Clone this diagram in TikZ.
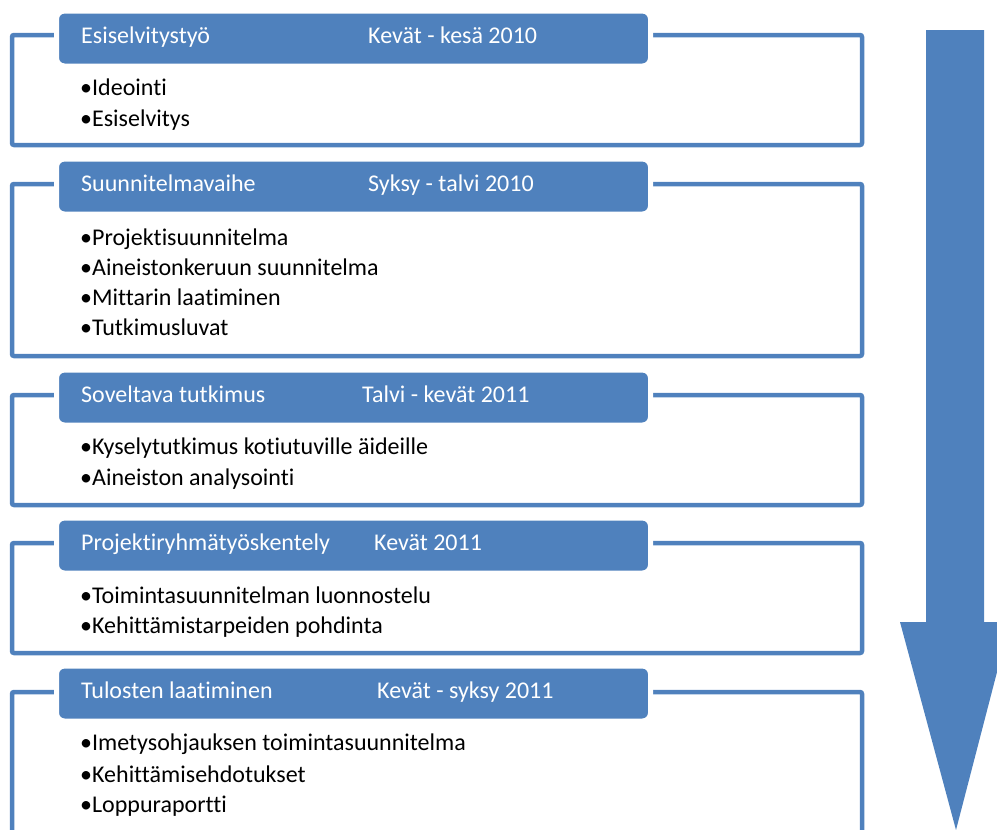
\documentclass[tikz,border=0pt]{standalone}
\usepackage{fontspec}
\setmainfont[Ligatures=NoCommon]{Carlito}
\definecolor{ob}{HTML}{4F81BD}
\begin{document}
\begin{tikzpicture}[x=1pt,y=-1pt,
  frame/.style={draw=ob, line width=4.5pt, rounded corners=2pt},
  head/.style={fill=ob, draw=white, line width=5pt, rounded corners=8pt, anchor=north west, inner sep=0pt, minimum width=594pt, minimum height=55pt},
  htext/.style={text=white, anchor=base west, font=\fontsize{24}{28}\selectfont, inner sep=0pt},
  item/.style={anchor=base west, font=\fontsize{24}{28}\selectfont, inner sep=0pt}]
\useasboundingbox (0,0) rectangle (997,830);
\clip (0,0) rectangle (997,830);
% arrow
\fill[ob] (926,30) -- (984,30) -- (984,622) -- (1010,622) -- (956,830) -- (900,622) -- (926,622) -- cycle;
% frames
\draw[frame] (12,35) rectangle (862,145);
\draw[frame] (12,184) rectangle (862,356);
\draw[frame] (12,395) rectangle (862,505);
\draw[frame] (12,543) rectangle (862,653);
\draw[frame] (12,692) rectangle (862,860);
% headers
\node[head] (h1) at (54,8.5) {};
\node[head] (h2) at (54,156.5) {};
\node[head] (h3) at (54,367.5) {};
\node[head] (h4) at (54,515.5) {};
\node[head] (h5) at (54,663.5) {};
\node[htext] (t1) at (81,43) {Esiselvitystyö};
\node[htext] (d1) at (368,43) {Kevät - kesä 2010};
\node[htext] (t2) at (81,191) {Suunnitelmavaihe};
\node[htext] (d2) at (368,191) {Syksy - talvi 2010};
\node[htext] (t3) at (81,402) {Soveltava tutkimus};
\node[htext] (d3) at (362,402) {Talvi - kevät 2011};
\node[htext] (t4) at (81,550) {Projektiryhmätyöskentely};
\node[htext] (d4) at (374,550) {Kevät 2011};
\node[htext] (t5) at (81,698) {Tulosten laatiminen};
\node[htext] (d5) at (377,698) {Kevät - syksy 2011};
% items
\node[item] (i11) at (80,95) {•Ideointi};
\node[item] (i12) at (80,126) {•Esiselvitys};
\node[item] (i21) at (80,245) {•Projektisuunnitelma};
\node[item] (i22) at (80,275) {•Aineistonkeruun suunnitelma};
\node[item] (i23) at (80,305) {•Mittarin laatiminen};
\node[item] (i24) at (80,335) {•Tutkimusluvat};
\node[item] (i31) at (80,454) {•Kyselytutkimus kotiutuville äideille};
\node[item] (i32) at (80,485) {•Aineiston analysointi};
\node[item] (i41) at (80,603) {•Toimintasuunnitelman luonnostelu};
\node[item] (i42) at (80,633) {•Kehittämistarpeiden pohdinta};
\node[item] (i51) at (80,750) {•Imetysohjauksen toimintasuunnitelma};
\node[item] (i52) at (80,782) {•Kehittämisehdotukset};
\node[item] (i53) at (80,812) {•Loppuraportti};
\end{tikzpicture}
\end{document}
